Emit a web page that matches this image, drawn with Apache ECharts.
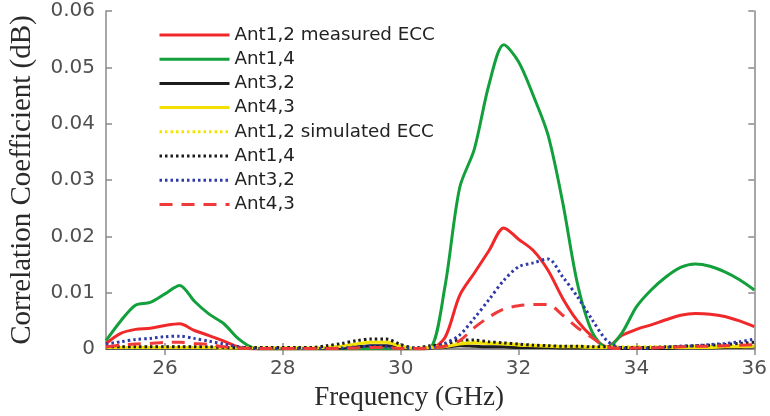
<!DOCTYPE html>
<html>
<head>
<meta charset="utf-8">
<script src="https://cdn.jsdelivr.net/npm/echarts@6/dist/echarts.min.js"></script>
<style>html,body{margin:0;padding:0;background:#fff;}#c{width:770px;height:416px;}</style>
</head>
<body>
<div id="c"></div>
<script>
// Frequency points (GHz)
const freq = [25,25.25,25.5,25.75,26,26.25,26.5,26.75,27,27.25,27.5,27.75,28,28.25,28.5,28.75,29,29.25,29.5,29.75,30,30.25,30.5,30.75,31,31.25,31.5,31.75,32,32.25,32.5,32.75,33,33.25,33.5,33.75,34,34.25,34.5,34.75,35,35.25,35.5,35.75,36];
const xTicks = [26,28,30,32,34,36];
const yTicks = [0,0.01,0.02,0.03,0.04,0.05,0.06];

// Measured ECC
const ant12Meas = [0.001,0.0028,0.0035,0.0037,0.0042,0.0045,0.0033,0.0024,0.0014,0.0004,0,0,0,0,0,0,0,0,0,0,0,0,0.0001,0.002,0.0095,0.0135,0.0175,0.0215,0.0195,0.0175,0.014,0.009,0.005,0.0022,0.0004,0.0024,0.0035,0.0043,0.0052,0.006,0.0063,0.0062,0.0058,0.005,0.004];
const ant14Meas = [0.0015,0.005,0.0078,0.0083,0.0098,0.0113,0.0085,0.0062,0.0045,0.0018,0.0002,0,0,0,0,0,0,0,0,0,0,0,0.0002,0.011,0.0286,0.0355,0.047,0.054,0.051,0.045,0.038,0.026,0.0116,0.003,0.0002,0.0028,0.0075,0.0105,0.0128,0.0145,0.0151,0.0147,0.0137,0.0123,0.0105];
const ant32Meas = [0.0002,0.0002,0.0002,0.0002,0.0002,0.0002,0.0002,0.0002,0.0002,0.0001,0.0001,0.0001,0.0001,0.0001,0.0001,0.0001,0.0002,0.0004,0.0006,0.0006,0.0003,0.0001,0.0002,0.0003,0.0006,0.0005,0.0004,0.0004,0.0003,0.0003,0.0003,0.0002,0.0002,0.0002,0.0002,0.0001,0.0001,0.0001,0.0001,0.0002,0.0002,0.0002,0.0003,0.0003,0.0004];
const ant43Meas = [0.0003,0.0003,0.0003,0.0003,0.0003,0.0003,0.0003,0.0003,0.0002,0.0002,0.0002,0.0002,0.0002,0.0002,0.0002,0.0003,0.0005,0.0009,0.0012,0.0012,0.0005,0.0001,0.0003,0.0004,0.0009,0.0011,0.001,0.0009,0.0007,0.0006,0.0005,0.0004,0.0004,0.0003,0.0003,0.0003,0.0003,0.0003,0.0003,0.0003,0.0003,0.0003,0.0004,0.0004,0.0005];
// Simulated ECC
const ant12Sim = [0.0004,0.0004,0.0004,0.0004,0.0004,0.0004,0.0004,0.0003,0.0003,0.0003,0.0003,0.0003,0.0003,0.0003,0.0003,0.0004,0.0006,0.001,0.0013,0.0013,0.0006,0.0002,0.0004,0.0006,0.0012,0.0013,0.0011,0.001,0.0008,0.0007,0.0006,0.0005,0.0005,0.0004,0.0004,0.0004,0.0004,0.0004,0.0004,0.0004,0.0005,0.0005,0.0005,0.0006,0.0007];
const ant14Sim = [0.0004,0.0004,0.0004,0.0004,0.0004,0.0004,0.0004,0.0004,0.0003,0.0003,0.0003,0.0003,0.0003,0.0003,0.0003,0.0006,0.001,0.0015,0.0018,0.0018,0.0008,0.0002,0.0006,0.0008,0.0016,0.0016,0.0013,0.0011,0.0009,0.0007,0.0006,0.0005,0.0005,0.0004,0.0004,0.0003,0.0003,0.0003,0.0004,0.0005,0.0006,0.0007,0.0008,0.001,0.0012];
const ant32Sim = [0.0009,0.0013,0.0017,0.0019,0.0022,0.0023,0.0019,0.0014,0.0009,0.0004,0.0001,0.0001,0.0001,0.0001,0.0001,0.0001,0.0002,0.0004,0.0005,0.0004,0.0001,0.0002,0.0002,0.001,0.0025,0.0055,0.0088,0.0122,0.0146,0.0153,0.016,0.0128,0.0093,0.0052,0.0015,0.0002,0.0001,0.0002,0.0003,0.0005,0.0006,0.0008,0.001,0.0013,0.0018];
const ant43Sim = [0.0004,0.0007,0.0009,0.001,0.0012,0.0012,0.001,0.0008,0.0004,0.0002,0.0001,0.0001,0.0001,0.0001,0.0001,0.0001,0.0001,0.0002,0.0003,0.0003,0.0001,0.0001,0.0002,0.0005,0.0015,0.0038,0.0057,0.0071,0.0077,0.0079,0.0079,0.006,0.0038,0.002,0.0004,0.0001,0.0002,0.0002,0.0003,0.0004,0.0005,0.0005,0.0006,0.0007,0.0008];

const seriesDefs = [
  {name:'Ant1,2 measured ECC', data:ant12Meas, color:'#f0282a', type:'solid'},
  {name:'Ant1,4', data:ant14Meas, color:'#13a03c', type:'solid'},
  {name:'Ant3,2', data:ant32Meas, color:'#1c1c1c', type:'solid'},
  {name:'Ant4,3', data:ant43Meas, color:'#f2e000', type:'solid'},
  {name:'Ant1,2 simulated ECC', data:ant12Sim, color:'#f2e600', type:[2.5,3]},
  {name:'Ant1,4 ', data:ant14Sim, color:'#1c1c1c', type:[2.5,3]},
  {name:'Ant3,2 ', data:ant32Sim, color:'#2f3aa8', type:[2.5,3]},
  {name:'Ant4,3 ', data:ant43Sim, color:'#f03a3a', type:[13,9]}
];

const chart = echarts.init(document.getElementById('c'), null, {renderer:'canvas'});
const axisGray = '#8a8a8a';
const labelFont = {fontFamily:'DejaVu Sans', fontSize:20, color:'#505050'};

const option = {
  animation:false,
  backgroundColor:'#fff',
  grid:{left:104, right:13, top:11, bottom:63},
  legend:{
    orient:'vertical', left:158, top:26, padding:0,
    itemWidth:70, itemHeight:14, itemGap:6.2,
    itemStyle:{opacity:0, borderWidth:0},
    lineStyle:{width:3},
    textStyle:{fontFamily:'DejaVu Sans', fontSize:18.3, color:'#222'},
    data:seriesDefs.map(s=>s.name)
  },
  xAxis:[{
    type:'value', min:25, max:36, position:'bottom',
    name:'Frequency (GHz)', nameLocation:'middle', nameGap:25,
    nameTextStyle:{fontFamily:'Liberation Serif', fontSize:27, color:'#2a2a2a', padding:[0,42,0,0]},
    axisLine:{show:true, lineStyle:{color:axisGray, width:1.5}},
    axisTick:{show:true, inside:true, length:6, customValues:xTicks, lineStyle:{color:axisGray, width:1.5}},
    axisLabel:{customValues:xTicks, margin:10, ...labelFont},
    splitLine:{show:false}
  },{
    type:'value', min:25, max:36, position:'top',
    axisLine:{show:true, lineStyle:{color:axisGray, width:1.5}},
    axisTick:{show:true, inside:true, length:6, customValues:xTicks, lineStyle:{color:axisGray, width:1.5}},
    axisLabel:{show:false},
    splitLine:{show:false}
  }],
  yAxis:[{
    type:'value', min:0, max:0.06, interval:0.01, position:'left',
    name:'Correlation Coefficient (dB)', nameLocation:'middle', nameGap:69,
    nameTextStyle:{fontFamily:'Liberation Serif', fontSize:29, color:'#2a2a2a'},
    axisLine:{show:true, lineStyle:{color:axisGray, width:1.5}},
    axisTick:{show:true, inside:true, length:6, lineStyle:{color:axisGray, width:1.5}},
    axisLabel:{margin:11, ...labelFont, formatter:v=>String(+v.toFixed(2))},
    splitLine:{show:false}
  },{
    type:'value', min:0, max:0.06, interval:0.01, position:'right',
    axisLine:{show:true, lineStyle:{color:axisGray, width:1.5}},
    axisTick:{show:true, inside:true, length:6, lineStyle:{color:axisGray, width:1.5}},
    axisLabel:{show:false},
    splitLine:{show:false}
  }],
  series:seriesDefs.map(s=>({
    name:s.name, type:'line', xAxisIndex:0, yAxisIndex:0,
    data:freq.map((f,i)=>[f, s.data[i]]),
    smooth:0.3, symbol:'none', showSymbol:false,
    lineStyle:{color:s.color, width:3, type:s.type, cap:'butt'},
    itemStyle:{color:s.color},
    emphasis:{disabled:true}
  }))
};
chart.setOption(option);
</script>
</body>
</html>
